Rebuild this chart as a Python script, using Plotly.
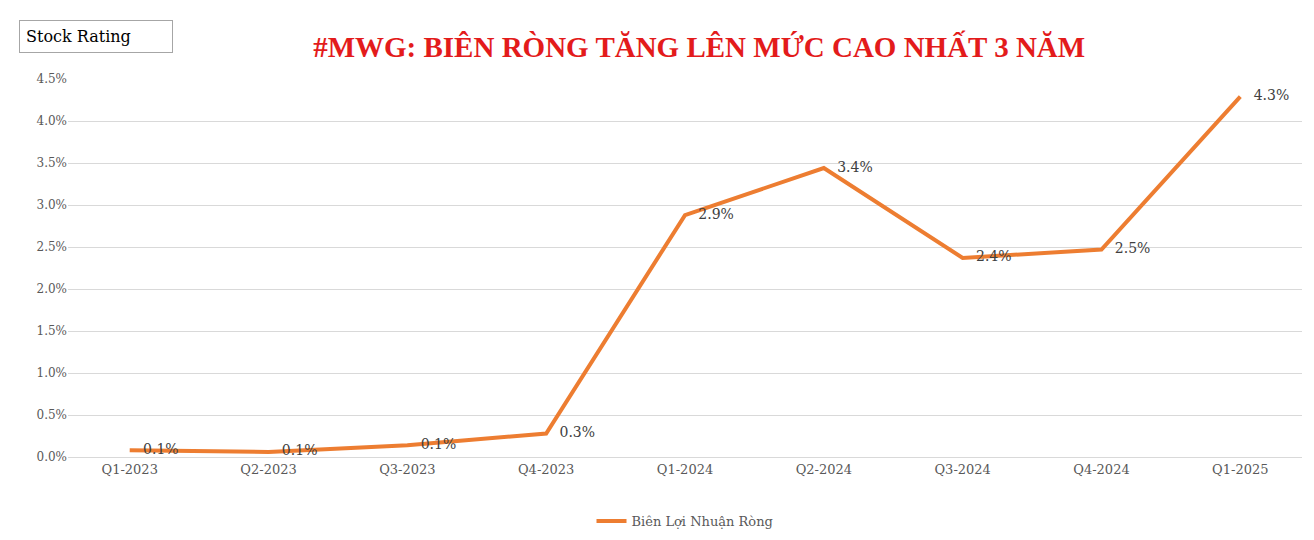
import plotly.graph_objects as go

categories = ["Q1-2023","Q2-2023","Q3-2023","Q4-2023","Q1-2024","Q2-2024","Q3-2024","Q4-2024","Q1-2025"]
margin = [0.08, 0.06, 0.14, 0.28, 2.88, 3.44, 2.37, 2.47, 4.29]
labels = ["0.1%","0.1%","0.1%","0.3%","2.9%","3.4%","2.4%","2.5%","4.3%"]
yticks = [0,0.5,1,1.5,2,2.5,3,3.5,4,4.5]

fig = go.Figure(go.Scatter(
    x=categories, y=margin, mode="lines+text", text=["   "+l for l in labels],
    textposition="middle right", textfont=dict(family="DejaVu Serif", size=14, color="#404040"),
    line=dict(color="#ED7D31", width=4), name="Biên Lợi Nhuận Ròng", cliponaxis=False))
fig.update_layout(
    width=1314, height=540, paper_bgcolor="white", plot_bgcolor="white",
    margin=dict(l=60, r=20, t=71, b=83),
    title=dict(text="<b>#MWG: BIÊN RÒNG TĂNG LÊN MỨC CAO NHẤT 3 NĂM</b>", x=0.526, xanchor="center",
               y=0.928, yanchor="middle",
               font=dict(family="Liberation Serif", size=29, color="#E31B1B")),
    xaxis=dict(type="category", showgrid=False, showline=True, linecolor="#D9D9D9",
               tickfont=dict(family="DejaVu Serif", size=13, color="#595959"), ticks=""),
    yaxis=dict(range=[0,4.5], tickvals=yticks, ticktext=[f"{v:.1f}%" for v in yticks],
               gridcolor="#D9D9D9", zeroline=False,
               tickfont=dict(family="DejaVu Serif", size=12, color="#595959")),
    showlegend=True,
    legend=dict(orientation="h", x=0.5, xanchor="center", y=-0.13, yanchor="top",
                font=dict(family="DejaVu Serif", size=13, color="#595959")),
    annotations=[dict(text="Stock Rating", xref="paper", yref="paper", x=-0.04, y=1.07,
                      xanchor="left", yanchor="bottom", showarrow=False, bordercolor="#A6A6A6",
                      borderwidth=1, borderpad=6, width=140, align="left",
                      font=dict(family="DejaVu Serif", size=16, color="black"))]
)
fig.write_html("out.html")
